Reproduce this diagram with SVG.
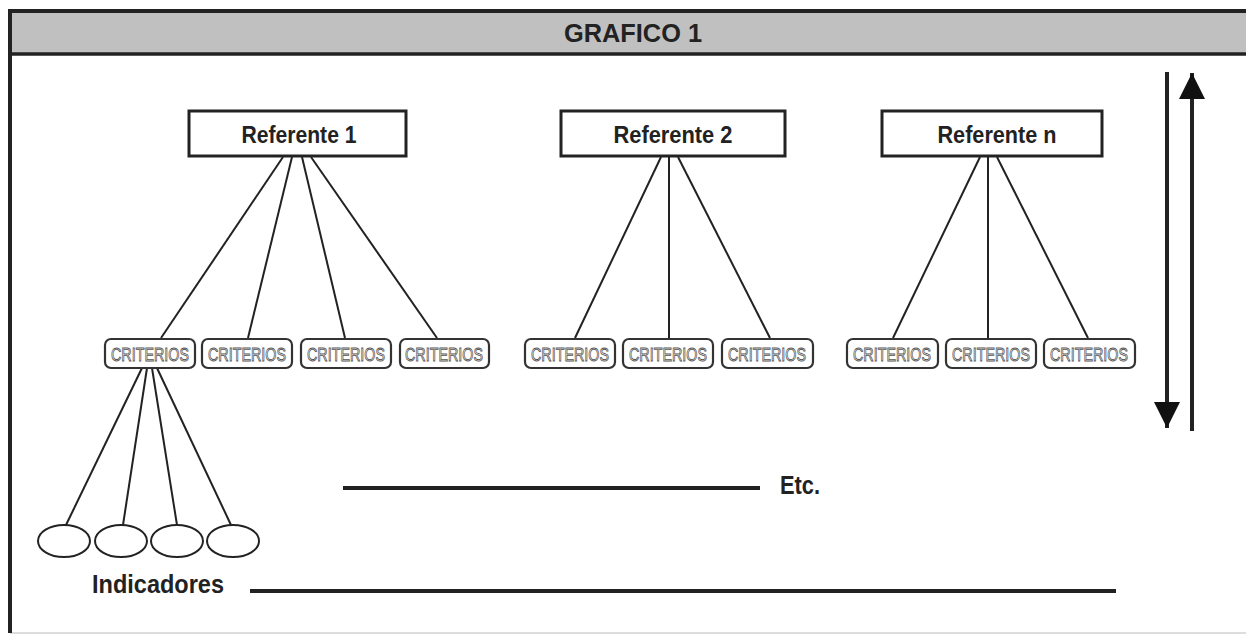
<svg xmlns="http://www.w3.org/2000/svg" width="1246" height="635" viewBox="0 0 1246 635">
<style>
.ref{fill:#fff;stroke:#222;stroke-width:3}
.reft{font-family:"Liberation Sans",Arial,sans-serif;font-weight:bold;font-size:23px;fill:#222;text-anchor:middle}
.crit{fill:#fff;stroke:#333;stroke-width:2.2}
.critt{font-family:"Liberation Sans",Arial,sans-serif;font-size:19px;fill:#fff;stroke:#555;stroke-width:0.9;text-anchor:middle}
.con{stroke:#222;stroke-width:2;fill:none}
.thick{stroke:#222;stroke-width:4;fill:none}
.ind{fill:#fff;stroke:#222;stroke-width:2}
.lbl{font-family:"Liberation Sans",Arial,sans-serif;font-weight:bold;font-size:26px;fill:#222}
</style>
<defs>
<marker id="ah" viewBox="0 0 10 10" refX="10" refY="5" markerWidth="6.5" markerHeight="7" markerUnits="strokeWidth" orient="auto">
<path d="M0,0 L10,5 L0,10 Z" fill="#111"/>
</marker>
</defs>
<rect width="1246" height="635" fill="#fff"/>
<g id="frame">
<line x1="10" y1="633" x2="1246" y2="633" stroke="#ddd" stroke-width="2"/>
<rect x="10" y="11" width="1240" height="43" fill="#c0c0c0"/>
<line x1="8" y1="11" x2="1246" y2="11" stroke="#222" stroke-width="4"/>
<line x1="8" y1="54" x2="1246" y2="54" stroke="#222" stroke-width="3.5"/>
<line x1="10" y1="9" x2="10" y2="633" stroke="#222" stroke-width="4"/>
<text x="633" y="42" class="reft" style="font-size:25px" textLength="138" lengthAdjust="spacingAndGlyphs">GRAFICO 1</text>
</g>
<g id="connectors">
<line class="con" x1="283" y1="157" x2="161" y2="338"/>
<line class="con" x1="292" y1="157" x2="248" y2="338"/>
<line class="con" x1="302" y1="157" x2="345" y2="338"/>
<line class="con" x1="311" y1="157" x2="437" y2="338"/>
<line class="con" x1="661" y1="157" x2="575" y2="338"/>
<line class="con" x1="669" y1="157" x2="669" y2="338"/>
<line class="con" x1="678" y1="157" x2="770" y2="338"/>
<line class="con" x1="980" y1="157" x2="893" y2="338"/>
<line class="con" x1="988" y1="157" x2="988" y2="338"/>
<line class="con" x1="997" y1="157" x2="1088" y2="338"/>
<line class="con" x1="142" y1="368" x2="66" y2="525"/>
<line class="con" x1="147" y1="368" x2="123" y2="525"/>
<line class="con" x1="152" y1="368" x2="177" y2="525"/>
<line class="con" x1="157" y1="368" x2="231" y2="525"/>
<line class="thick" x1="1167" y1="72" x2="1167" y2="428" marker-end="url(#ah)"/>
<line class="thick" x1="1192" y1="431" x2="1192" y2="73" marker-end="url(#ah)"/>
<line class="thick" x1="343" y1="488" x2="760" y2="488"/>
<line class="thick" x1="250" y1="591" x2="1116" y2="591"/>
</g>
<g id="ref1"><rect class="ref" x="189" y="111" width="217" height="45"/><text class="reft" x="299" y="143" textLength="115" lengthAdjust="spacingAndGlyphs">Referente 1</text></g>
<g id="ref2"><rect class="ref" x="561" y="111" width="224" height="45"/><text class="reft" x="673" y="143" textLength="119" lengthAdjust="spacingAndGlyphs">Referente 2</text></g>
<g id="refn"><rect class="ref" x="882" y="111" width="220" height="45"/><text class="reft" x="997" y="143" textLength="119" lengthAdjust="spacingAndGlyphs">Referente n</text></g>
<g id="c1"><rect class="crit" x="105" y="339" width="90" height="29" rx="6"/><text class="critt" x="150" y="361" textLength="78" lengthAdjust="spacingAndGlyphs">CRITERIOS</text></g>
<g id="c2"><rect class="crit" x="202" y="339" width="90" height="29" rx="6"/><text class="critt" x="247" y="361" textLength="78" lengthAdjust="spacingAndGlyphs">CRITERIOS</text></g>
<g id="c3"><rect class="crit" x="301" y="339" width="90" height="29" rx="6"/><text class="critt" x="346" y="361" textLength="78" lengthAdjust="spacingAndGlyphs">CRITERIOS</text></g>
<g id="c4"><rect class="crit" x="400" y="339" width="89" height="29" rx="6"/><text class="critt" x="444" y="361" textLength="78" lengthAdjust="spacingAndGlyphs">CRITERIOS</text></g>
<g id="c5"><rect class="crit" x="525" y="339" width="90" height="29" rx="6"/><text class="critt" x="570" y="361" textLength="78" lengthAdjust="spacingAndGlyphs">CRITERIOS</text></g>
<g id="c6"><rect class="crit" x="623" y="339" width="90" height="29" rx="6"/><text class="critt" x="668" y="361" textLength="78" lengthAdjust="spacingAndGlyphs">CRITERIOS</text></g>
<g id="c7"><rect class="crit" x="722" y="339" width="91" height="29" rx="6"/><text class="critt" x="767" y="361" textLength="78" lengthAdjust="spacingAndGlyphs">CRITERIOS</text></g>
<g id="c8"><rect class="crit" x="847" y="339" width="91" height="29" rx="6"/><text class="critt" x="892" y="361" textLength="78" lengthAdjust="spacingAndGlyphs">CRITERIOS</text></g>
<g id="c9"><rect class="crit" x="946" y="339" width="90" height="29" rx="6"/><text class="critt" x="991" y="361" textLength="78" lengthAdjust="spacingAndGlyphs">CRITERIOS</text></g>
<g id="c10"><rect class="crit" x="1044" y="339" width="91" height="29" rx="6"/><text class="critt" x="1089" y="361" textLength="78" lengthAdjust="spacingAndGlyphs">CRITERIOS</text></g>
<g id="i1"><ellipse class="ind" cx="64" cy="541" rx="26" ry="16"/></g>
<g id="i2"><ellipse class="ind" cx="121" cy="541" rx="26" ry="16"/></g>
<g id="i3"><ellipse class="ind" cx="177" cy="541" rx="26" ry="16"/></g>
<g id="i4"><ellipse class="ind" cx="233" cy="541" rx="26" ry="16"/></g>
<text class="lbl" x="92" y="593" textLength="132" lengthAdjust="spacingAndGlyphs">Indicadores</text>
<text class="lbl" x="780" y="494" textLength="40" lengthAdjust="spacingAndGlyphs">Etc.</text>
</svg>
